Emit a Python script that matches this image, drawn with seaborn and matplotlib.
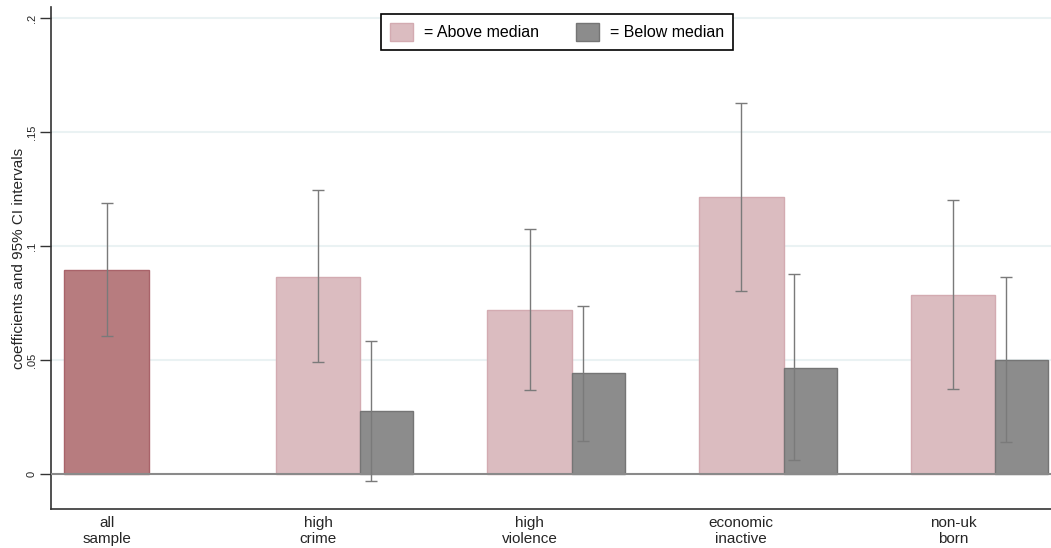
"""
Coefficient bar chart with 95% CIs, above vs below median subgroups.
"""

import numpy as np
import pandas as pd
import matplotlib
matplotlib.use("Agg")
import matplotlib.pyplot as plt
from matplotlib.patches import Patch
import seaborn as sns


# ─────────────────────────────────────────────
# Data
# ─────────────────────────────────────────────
groups = ["all\nsample", "high\ncrime", "high\nviolence", "economic\ninactive", "non-uk\nborn"]

above_coef = [0.0895, 0.0866, 0.0719, 0.1214, 0.0785]
above_lo   = [0.0605, 0.0490, 0.0367, 0.0804, 0.0374]
above_hi   = [0.1189, 0.1245, 0.1073, 0.1626, 0.1201]

below_groups = ["high\ncrime", "high\nviolence", "economic\ninactive", "non-uk\nborn"]
below_coef = [0.0278, 0.0442, 0.0466, 0.0501]
below_lo   = [-0.0031, 0.0146, 0.0061, 0.0142]
below_hi   = [0.0585, 0.0738, 0.0876, 0.0863]

yticks      = [0, 0.05, 0.1, 0.15, 0.2]
ytick_text  = ["0", ".05", ".1", ".15", ".2"]

# colours
C_ALL     = "#b77c7f"
C_ALL_E   = "#a9636a"
C_ABOVE   = "#dbbcc0"
C_ABOVE_E = "#d3abb1"
C_BELOW   = "#8c8c8c"
C_BELOW_E = "#757575"
C_CI      = "#7a7a7a"
C_GRID    = "#eaf2f3"


# ─────────────────────────────────────────────
# Frames
# ─────────────────────────────────────────────
above_pos = np.arange(len(groups), dtype=float)
kind = ["all"] + ["above"] * (len(groups) - 1)
df_above = pd.DataFrame({"pos": above_pos, "coef": above_coef, "kind": kind})

below_pos = np.array([groups.index(g) for g in below_groups], dtype=float)
df_below = pd.DataFrame({"pos": below_pos + 0.325, "coef": below_coef})


# ─────────────────────────────────────────────
# Plot
# ─────────────────────────────────────────────
sns.set_style("white")
plt.rcParams["font.family"] = ["Liberation Sans", "DejaVu Sans"]

fig = plt.figure(figsize=(10.51, 5.48), dpi=100)
ax = fig.add_axes([51 / 1051, 39 / 548, 1000 / 1051, 502 / 548])

for y in yticks[1:]:
    ax.axhline(y, color=C_GRID, linewidth=1.5, zorder=0)

sns.barplot(
    data=df_above, x="pos", y="coef", hue="kind",
    palette={"all": C_ALL, "above": C_ABOVE}, saturation=1,
    native_scale=True, width=0.4, dodge=False,
    errorbar=None, legend=False, linewidth=1.0, ax=ax, zorder=2,
)
for p in ax.patches:
    fc = matplotlib.colors.to_hex(p.get_facecolor())
    p.set_edgecolor(C_ALL_E if fc == C_ALL else C_ABOVE_E)
n_above = len(ax.patches)

sns.barplot(
    data=df_below, x="pos", y="coef", color=C_BELOW, saturation=1,
    native_scale=True, width=0.25, errorbar=None,
    linewidth=1.0, ax=ax, zorder=2,
)
for p in ax.patches[n_above:]:
    p.set_facecolor(C_BELOW)
    p.set_edgecolor(C_BELOW_E)

ax.axhline(0, color="#8a8a8a", linewidth=1.5, zorder=3)

# confidence intervals
a_coef = np.array(above_coef)
ax.errorbar(above_pos, a_coef,
            yerr=[a_coef - np.array(above_lo), np.array(above_hi) - a_coef],
            fmt="none", ecolor=C_CI, elinewidth=1.0, capsize=4.5, capthick=1.0,
            zorder=4)
b_coef = np.array(below_coef)
ax.errorbar(below_pos + 0.25, b_coef,
            yerr=[b_coef - np.array(below_lo), np.array(below_hi) - b_coef],
            fmt="none", ecolor=C_CI, elinewidth=1.0, capsize=4.5, capthick=1.0,
            zorder=4)

# axes
ax.set_xlim(-0.2623, 4.4636)
ax.set_ylim(-0.01535, 0.2048)
ax.set_xticks(above_pos)
ax.set_xticklabels(groups, fontsize=11, linespacing=1.2)
ax.set_yticks(yticks)
ax.set_yticklabels(ytick_text, fontsize=8, rotation=90, va="center")
ax.tick_params(axis="x", length=0, pad=5)
ax.tick_params(axis="y", length=8, width=1, color="#333333", pad=2, left=True)
ax.set_xlabel("")
ax.set_ylabel("coefficients and 95% CI intervals", fontsize=11)
ax.yaxis.set_label_coords(-0.025, 0.5)

for side in ["top", "right"]:
    ax.spines[side].set_visible(False)
for side in ["left", "bottom"]:
    ax.spines[side].set_color("#333333")
    ax.spines[side].set_linewidth(1.2)

handles = [
    Patch(facecolor=C_ABOVE, edgecolor=C_ABOVE_E, label="= Above median"),
    Patch(facecolor=C_BELOW, edgecolor=C_BELOW_E, label="= Below median"),
]
leg = ax.legend(handles=handles, loc="upper center", bbox_to_anchor=(0.506, 0.986),
                ncol=2, fontsize=11.5, frameon=True, fancybox=False, framealpha=1,
                edgecolor="black", handlelength=1.45, handleheight=1.4,
                handletextpad=0.7, columnspacing=2.3, borderpad=0.55,
                borderaxespad=0)
leg.get_frame().set_linewidth(1.2)
for t in leg.get_texts():
    t.set_color("black")

fig.savefig("out.png", dpi=100)
print("[INFO] saved out.png")
